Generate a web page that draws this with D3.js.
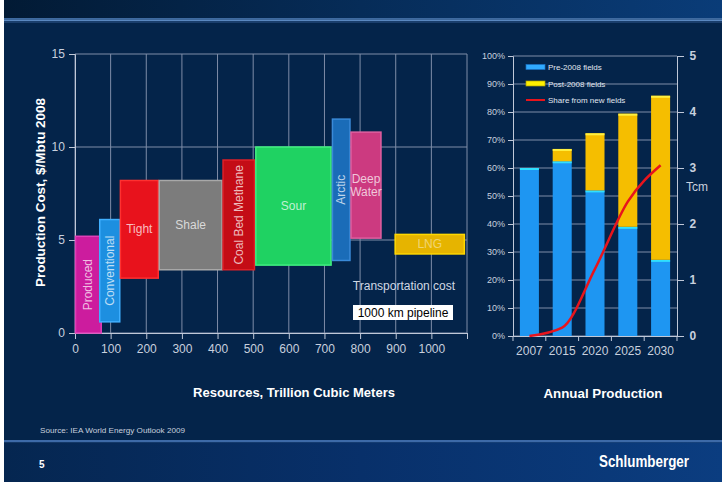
<!DOCTYPE html>
<html>
<head>
<meta charset="utf-8">
<script src="https://cdn.jsdelivr.net/npm/d3@7"></script>
<style>
  body { margin: 0; background: #04244a; }
  svg { display: block; font-family: "Liberation Sans", Arial, sans-serif; }
</style>
</head>
<body>
<div id="chart"></div>
<script>
// ---- left chart: gas resources vs production cost ----
const resourceNames = ['Produced', 'Conventional', 'Tight', 'Shale', 'Coal Bed Methane', 'Sour', 'Arctic', 'Deep Water', 'LNG'];
const resourceStart = [0, 68, 126, 235, 414, 506, 721, 773, 897];   // Tcm
const resourceEnd   = [75, 127, 235, 414, 505, 720, 773, 860, 1094];
const costLow  = [0, 0.6, 2.95, 3.4, 3.4, 3.65, 3.9, 5.1, 4.25];     // $/Mbtu
const costHigh = [5.2, 6.1, 8.2, 8.2, 9.3, 10.0, 11.5, 10.8, 5.3];
const resourceColors = ['#cc1c9e', '#1d8fe0', '#e8121c', '#7c7c7c', '#c40c16', '#1fd262', '#1a6cb8', '#cc3a80', '#e6b400'];
const resourceEdges  = ['#e040b8', '#40b0ff', '#ff3030', '#a8a8a8', '#e02028', '#40f080', '#3a8ad8', '#e060a0', '#ffd800'];
const resourceTicks = [0, 100, 200, 300, 400, 500, 600, 700, 800, 900, 1000];
const costTicks = [0, 5, 10, 15];

// ---- right chart: annual production ----
const years = ['2007', '2015', '2020', '2025', '2030'];
const preFields  = [3.0, 3.12, 2.6, 1.95, 1.36];   // Tcm
const postFields = [0, 0.22, 1.02, 2.02, 2.93];    // Tcm
const newShare   = [0, 3, 24, 48, 61];             // %
const shareTicks = [0, 10, 20, 30, 40, 50, 60, 70, 80, 90, 100];
const tcmTicks = [0, 1, 2, 3, 4, 5];

const W = 722, H = 482;
const svg = d3.select('#chart').append('svg').attr('width', W).attr('height', H);
const defs = svg.append('defs');

function hGrad(id, stops) {
  const g = defs.append('linearGradient').attr('id', id).attr('x1', 0).attr('x2', 1).attr('y1', 0).attr('y2', 0);
  stops.forEach(s => g.append('stop').attr('offset', s[0]).attr('stop-color', s[1]));
}
hGrad('topband', [[0, '#021a34'], [0.5, '#062c58'], [1, '#0a3c78']]);
hGrad('footer', [[0, '#052650'], [0.5, '#08306a'], [1, '#0b3d80']]);

// background, header band, footer
svg.append('rect').attr('width', W).attr('height', H).attr('fill', '#04244a');
svg.append('rect').attr('width', W).attr('height', 18).attr('fill', 'url(#topband)');
svg.append('rect').attr('y', 18).attr('width', W).attr('height', 1.5).attr('fill', '#3e6aa0');
svg.append('rect').attr('y', 19.5).attr('width', W).attr('height', 1.5).attr('fill', '#5a88c0');
svg.append('rect').attr('y', 21).attr('width', W).attr('height', 2).attr('fill', '#1a3e6c');
svg.append('rect').attr('y', 440).attr('width', W).attr('height', 2.5).attr('fill', '#3d6aa8');
svg.append('rect').attr('y', 442.5).attr('width', W).attr('height', H - 442.5).attr('fill', 'url(#footer)');
svg.append('rect').attr('width', 4).attr('height', H).attr('fill', '#ffffff');

const tickColor = '#c8d0de';
const gridColor = '#7f8da8';

// ================= left chart =================
const x = d3.scaleLinear().domain([0, 1100]).range([75, 467]);
const y = d3.scaleLinear().domain([0, 15]).range([333, 54]);
const left = svg.append('g');

// grid
left.selectAll('line.vg').data(resourceTicks.concat([1100])).join('line')
  .attr('x1', d => x(d)).attr('x2', d => x(d)).attr('y1', y(15)).attr('y2', y(0))
  .attr('stroke', gridColor).attr('stroke-width', 1);
left.selectAll('line.hg').data(costTicks).join('line')
  .attr('x1', x(0)).attr('x2', x(1100)).attr('y1', d => y(d)).attr('y2', d => y(d))
  .attr('stroke', gridColor).attr('stroke-width', 1);

// axes
const xAxis = left.append('g').attr('transform', `translate(0,${y(0)})`)
  .call(d3.axisBottom(x).tickValues(resourceTicks.concat([1100])).tickSize(6).tickFormat(d => d === 1100 ? '' : d));
const yAxis = left.append('g').attr('transform', `translate(${x(0)},0)`)
  .call(d3.axisLeft(y).tickValues(costTicks).tickSize(6));
[xAxis, yAxis].forEach(a => {
  a.select('.domain').attr('stroke', '#c0c8d8');
  a.selectAll('.tick line').attr('stroke', '#c0c8d8');
  a.selectAll('.tick text').attr('fill', tickColor).attr('font-size', 12).attr('font-family', '"Liberation Sans Narrow", "Liberation Sans", Arial');
});
xAxis.selectAll('.tick text').attr('dy', '0.95em');
yAxis.selectAll('.tick text').attr('dx', '-0.1em');

// floating bars
const bars = resourceNames.map((n, i) => ({
  name: n, x0: resourceStart[i], x1: resourceEnd[i], lo: costLow[i], hi: costHigh[i],
  fill: resourceColors[i], edge: resourceEdges[i]
}));
left.selectAll('rect.res').data(bars).join('rect')
  .attr('x', d => x(d.x0) + 0.5)
  .attr('y', d => y(d.hi))
  .attr('width', d => x(d.x1) - x(d.x0) - 1)
  .attr('height', d => y(d.lo) - y(d.hi))
  .attr('fill', d => d.fill)
  .attr('stroke', d => d.edge)
  .attr('stroke-width', 1.5);

const verticalLabels = ['Produced', 'Conventional', 'Coal Bed Methane', 'Arctic'];
left.selectAll('text.res').data(bars).join('text')
  .attr('transform', d => {
    const cx = (x(d.x0) + x(d.x1)) / 2, cy = (y(d.lo) + y(d.hi)) / 2;
    return verticalLabels.includes(d.name) ? `translate(${cx},${cy}) rotate(-90)` : `translate(${cx},${cy})`;
  })
  .attr('text-anchor', 'middle')
  .attr('dominant-baseline', 'central')
  .attr('font-family', '"Liberation Sans Narrow", "Liberation Sans", Arial')
  .attr('font-size', 12)
  .attr('fill', '#ffffff')
  .attr('fill-opacity', d => d.name === 'LNG' ? 0.45 : 0.72)
  .each(function (d) {
    const t = d3.select(this);
    if (d.name === 'Deep Water') {
      t.append('tspan').attr('x', 0).attr('dy', '-0.55em').text('Deep');
      t.append('tspan').attr('x', 0).attr('dy', '1.15em').text('Water');
    } else {
      t.text(d.name);
    }
  });

left.append('text').attr('x', 404).attr('y', 290).attr('text-anchor', 'middle')
  .attr('font-family', '"Liberation Sans Narrow", "Liberation Sans", Arial')
  .attr('font-size', 12).attr('fill', '#d0d8e4').text('Transportation cost');
left.append('rect').attr('x', 353).attr('y', 305).attr('width', 100).attr('height', 15).attr('fill', '#ffffff');
left.append('text').attr('x', 403).attr('y', 316.5).attr('text-anchor', 'middle')
  .attr('font-family', '"Liberation Sans Narrow", "Liberation Sans", Arial')
  .attr('font-size', 12).attr('fill', '#000000').text('1000 km pipeline');

svg.append('text').attr('transform', 'translate(45,192.5) rotate(-90)').attr('text-anchor', 'middle')
  .attr('font-weight', 'bold').attr('font-size', 13).attr('fill', '#ffffff')
  .attr('textLength', 189).attr('lengthAdjust', 'spacingAndGlyphs')
  .text('Production Cost, $/Mbtu 2008');
svg.append('text').attr('x', 294).attr('y', 397).attr('text-anchor', 'middle')
  .attr('font-weight', 'bold').attr('font-size', 13).attr('fill', '#ffffff')
  .attr('textLength', 202).attr('lengthAdjust', 'spacingAndGlyphs')
  .text('Resources, Trillion Cubic Meters');

// ================= right chart =================
const xb = d3.scaleBand().domain(years).range([513, 677]).paddingInner(0.42).paddingOuter(0.21);
const yPct = d3.scaleLinear().domain([0, 100]).range([336, 56]);
const yTcm = d3.scaleLinear().domain([0, 5]).range([336, 56]);
const right = svg.append('g');

right.selectAll('line.g').data(shareTicks).join('line')
  .attr('x1', 513).attr('x2', 677).attr('y1', d => yPct(d)).attr('y2', d => yPct(d))
  .attr('stroke', gridColor).attr('stroke-width', 1);

const pctAxis = right.append('g').attr('transform', 'translate(513,0)')
  .call(d3.axisLeft(yPct).tickValues(shareTicks).tickSize(5).tickFormat(d => d + '%'));
pctAxis.selectAll('.tick text').attr('font-size', 9);
const tcmAxis = right.append('g').attr('transform', 'translate(677,0)')
  .call(d3.axisRight(yTcm).tickValues(tcmTicks).tickSize(7).tickFormat(d3.format('d')));
tcmAxis.selectAll('.tick text').attr('font-size', 12).attr('font-weight', 'bold').attr('dx', '0.2em');
const yearAxis = right.append('g').attr('transform', `translate(0,${yPct(0)})`)
  .call(d3.axisBottom(xb).tickSize(0));
yearAxis.selectAll('.tick text').attr('font-size', 12).attr('dy', '1.3em')
  .attr('font-family', '"Liberation Sans Narrow", "Liberation Sans", Arial');
// tick marks between the bands
right.selectAll('line.bt').data(d3.range(years.length + 1)).join('line')
  .attr('x1', i => 513 + i * xb.step()).attr('x2', i => 513 + i * xb.step())
  .attr('y1', yPct(0)).attr('y2', yPct(0) + 5).attr('stroke', '#c0c8d8');
[pctAxis, tcmAxis, yearAxis].forEach(a => {
  a.select('.domain').attr('stroke', '#c0c8d8');
  a.selectAll('.tick line').attr('stroke', '#c0c8d8');
  a.selectAll('.tick text').attr('fill', tickColor);
});
right.append('text').attr('x', 686).attr('y', 191).attr('font-size', 12).attr('fill', tickColor).text('Tcm');

// stacked bars
const stackRows = years.map((yr, i) => ({ year: yr, pre: preFields[i], post: postFields[i] }));
const stacked = d3.stack().keys(['pre', 'post'])(stackRows);
const stackFill = { pre: '#1e96f2', post: '#f5be00' };
const stackTop = { pre: '#30e0ff', post: '#fff040' };
stacked.forEach(layer => {
  right.selectAll(null).data(layer.filter(d => d[1] > d[0])).join('rect')
    .attr('x', d => xb(d.data.year)).attr('width', xb.bandwidth())
    .attr('y', d => yTcm(d[1])).attr('height', d => yTcm(d[0]) - yTcm(d[1]))
    .attr('fill', stackFill[layer.key]);
  right.selectAll(null).data(layer.filter(d => d[1] > d[0])).join('rect')
    .attr('x', d => xb(d.data.year)).attr('width', xb.bandwidth())
    .attr('y', d => yTcm(d[1])).attr('height', 2)
    .attr('fill', stackTop[layer.key]);
});

// share line
const line = d3.line()
  .x((d, i) => xb(years[i]) + xb.bandwidth() / 2)
  .y(d => yPct(d))
  .curve(d3.curveMonotoneX);
right.append('path').datum(newShare).attr('d', line)
  .attr('fill', 'none').attr('stroke', '#e8141c').attr('stroke-width', 2.5);

// legend
const legendItems = ['Pre-2008 fields', 'Post-2008 fields', 'Share from new fields'];
const legend = right.append('g').attr('transform', 'translate(526,67)');
legendItems.forEach((t, i) => {
  const ly = i * 16.5;
  if (i < 2) {
    legend.append('rect').attr('x', 0).attr('y', ly - 2.5).attr('width', 19).attr('height', 5)
      .attr('fill', i === 0 ? '#30aaff' : '#fff000').attr('stroke', i === 0 ? '#1a70c0' : '#b0a000').attr('stroke-width', 0.7);
  } else {
    legend.append('line').attr('x1', 0).attr('x2', 19).attr('y1', ly).attr('y2', ly)
      .attr('stroke', '#e8141c').attr('stroke-width', 2);
  }
  legend.append('text').attr('x', 22).attr('y', ly + 3).attr('font-size', 8)
    .attr('fill', '#e0e6f0').text(t);
});

svg.append('text').attr('x', 603).attr('y', 398).attr('text-anchor', 'middle')
  .attr('font-weight', 'bold').attr('font-size', 13).attr('fill', '#ffffff')
  .attr('textLength', 119).attr('lengthAdjust', 'spacingAndGlyphs')
  .text('Annual Production');

// footer texts
svg.append('text').attr('x', 40).attr('y', 433).attr('font-size', 7).attr('fill', '#c8d0de')
  .attr('textLength', 145).attr('lengthAdjust', 'spacingAndGlyphs')
  .text('Source: IEA World Energy Outlook 2009');
svg.append('text').attr('x', 39).attr('y', 468).attr('font-size', 10).attr('font-weight', 'bold')
  .attr('fill', '#ffffff').text('5');
svg.append('text').attr('x', 599).attr('y', 467).attr('font-size', 17).attr('font-weight', 'bold')
  .attr('fill', '#ffffff').attr('textLength', 90).attr('lengthAdjust', 'spacingAndGlyphs')
  .text('Schlumberger');
</script>
</body>
</html>
